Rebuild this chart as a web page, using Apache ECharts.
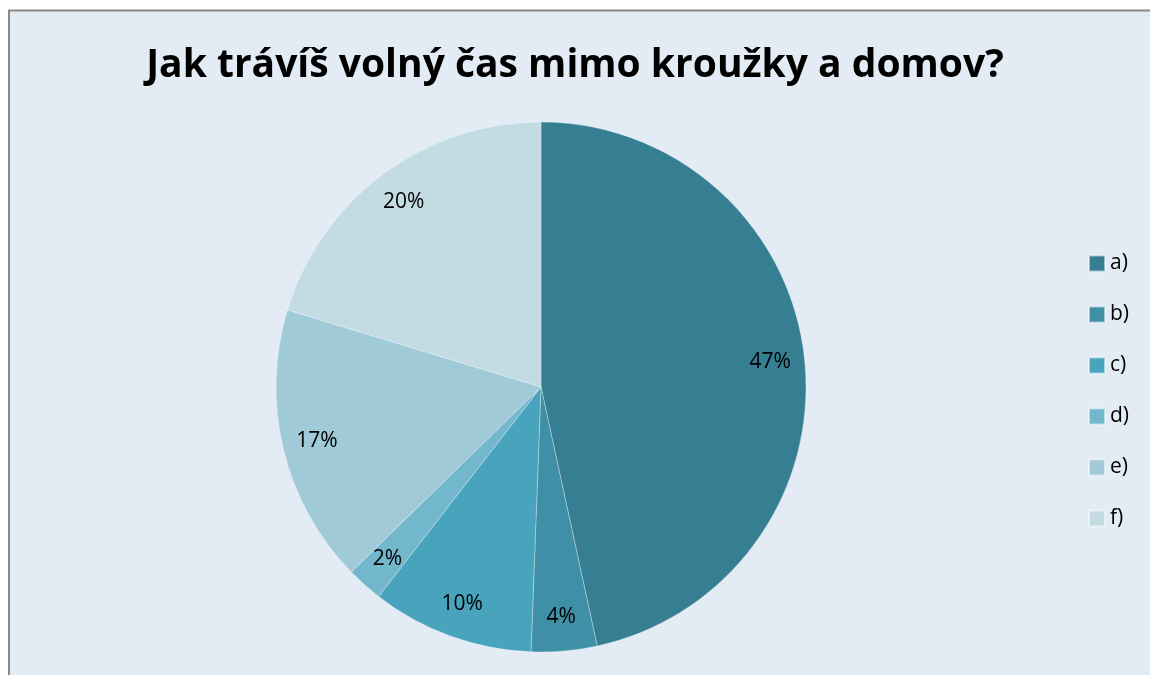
<!DOCTYPE html>
<html>
<head>
<meta charset="utf-8">
<script src="https://cdn.jsdelivr.net/npm/echarts@6/dist/echarts.min.js"></script>
<style>
  html, body { margin: 0; padding: 0; background: #fff; overflow: hidden; }
  #main { width: 1150px; height: 675px; }
</style>
</head>
<body>
<div id="main"></div>
<script>
// odpovědi a podíly
var categories = ['a)', 'b)', 'c)', 'd)', 'e)', 'f)'];
var shares = [46.6, 4.0, 9.9, 2.2, 17.0, 20.3];
var colors = ['#367E91', '#3F90A6', '#48A4BD', '#72B7CC', '#A1CAD9', '#C3DCE4'];

var chart = echarts.init(document.getElementById('main'));

var pieData = [];
var labelData = [];
for (var i = 0; i < categories.length; i++) {
    pieData.push({name: categories[i], value: shares[i], itemStyle: {color: colors[i]}});
    labelData.push({name: categories[i], value: shares[i]});
}

var option = {
    backgroundColor: '#ffffff',
    animation: false,
    color: colors,
    graphic: [
        {
            type: 'rect', z: -10, silent: true,
            shape: {x: 8, y: 10, width: 1160, height: 680},
            style: {fill: '#E3EBF5'}
        },
        {
            type: 'polyline', z: -9, silent: true,
            shape: {points: [[9, 680], [9, 10.5], [1160, 10.5]]},
            style: {stroke: '#8a8a8a', lineWidth: 2, fill: null}
        }
    ],
    title: {
        text: 'Jak trávíš volný čas mimo kroužky a domov?',
        left: 'center',
        top: 41,
        textStyle: {
            fontFamily: 'Open Sans',
            fontWeight: 'bold',
            fontSize: 39,
            color: '#000'
        }
    },
    legend: {
        orient: 'vertical',
        left: 1088,
        top: 253,
        padding: 0,
        itemWidth: 16,
        itemHeight: 16,
        itemGap: 30,
        icon: 'rect',
        data: categories,
        textStyle: {
            fontFamily: 'Open Sans',
            fontSize: 21,
            lineHeight: 20,
            color: '#000'
        }
    },
    series: [
        {
            name: 'podíl',
            type: 'pie',
            center: [541, 387],
            radius: [0, 265],
            startAngle: 90,
            clockwise: true,
            data: pieData,
            label: {show: false},
            labelLine: {show: false},
            itemStyle: {borderColor: 'rgba(255,255,255,0.5)', borderWidth: 0.6},
            emphasis: {disabled: true}
        },
        {
            // neviditelný kruh jen pro umístění popisků
            name: 'popisky',
            type: 'pie',
            center: [541, 387],
            radius: [0, 455],
            startAngle: 90,
            clockwise: true,
            silent: true,
            percentPrecision: 0,
            data: labelData,
            itemStyle: {color: 'rgba(0,0,0,0)', borderWidth: 0},
            labelLine: {show: false},
            label: {
                show: true,
                position: 'inside',
                formatter: '{d}%',
                fontFamily: 'Open Sans',
                fontSize: 21,
                color: '#000'
            },
            emphasis: {disabled: true}
        }
    ]
};
chart.setOption(option);
</script>
</body>
</html>
